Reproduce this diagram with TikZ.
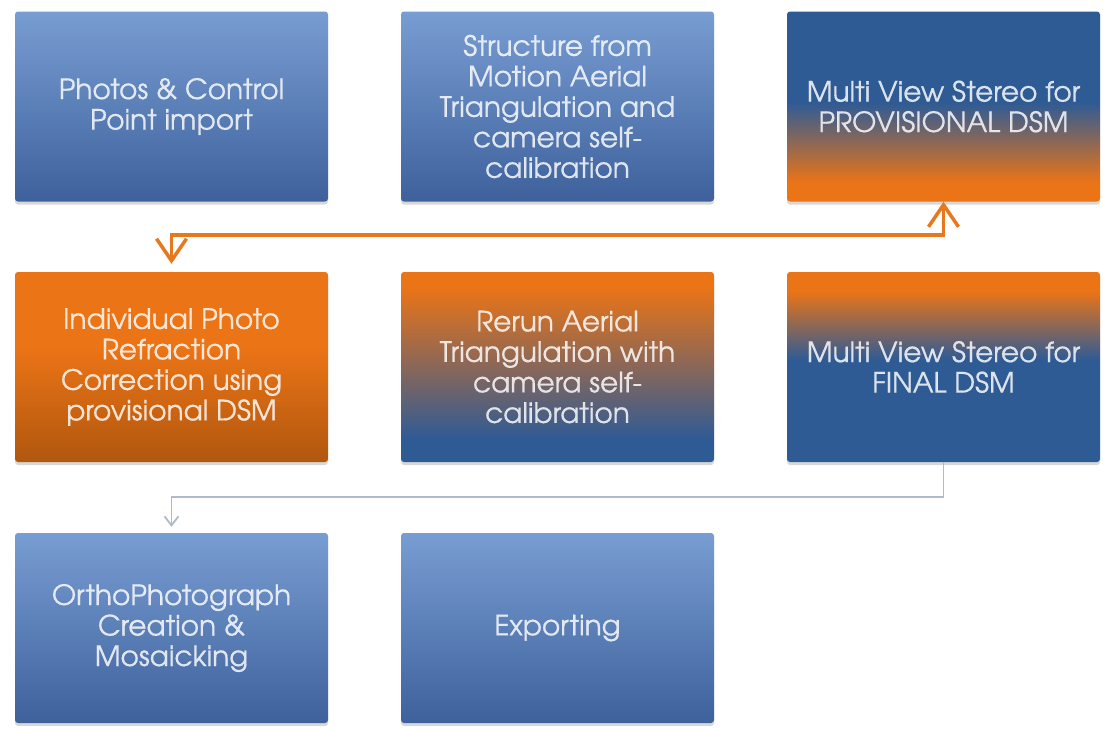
\documentclass[tikz,border=0pt]{standalone}
\usepackage{fontspec}
\setmainfont[FakeBold=0.5]{TeX Gyre Adventor}
\usetikzlibrary{arrows.meta,shadows}

% palette
\definecolor{bluetop}{HTML}{789DD2}
\definecolor{bluebot}{HTML}{3E619C}
\definecolor{deepblue}{HTML}{2F5B95}
\definecolor{orng}{HTML}{EB7416}
\definecolor{orngdark}{HTML}{B0570F}
\definecolor{linkorange}{HTML}{E8781E}
\definecolor{linkgray}{HTML}{AEBBCB}

% vertical shadings: 25bp = bottom edge of the box, 75bp = top edge
\pgfdeclareverticalshading{shblue}{100bp}{color(0bp)=(bluebot); color(25bp)=(bluebot); color(75bp)=(bluetop); color(100bp)=(bluetop)}
\pgfdeclareverticalshading{shblueorange}{100bp}{color(0bp)=(orng); color(30bp)=(orng); color(51bp)=(deepblue); color(100bp)=(deepblue)}
\pgfdeclareverticalshading{shorange}{100bp}{color(0bp)=(orngdark); color(25bp)=(orngdark); color(55bp)=(orng); color(100bp)=(orng)}
\pgfdeclareverticalshading{shorangeblue}{100bp}{color(0bp)=(deepblue); color(31bp)=(deepblue); color(71bp)=(orng); color(100bp)=(orng)}
\pgfdeclareverticalshading{shorangetop}{100bp}{color(0bp)=(deepblue); color(52bp)=(deepblue); color(70bp)=(orng); color(100bp)=(orng)}

\tikzset{
  stepbox/.style={rectangle, rounded corners=3pt, minimum width=313pt,
    minimum height=190pt, inner sep=0pt, align=center, text=white,
    text opacity=0.82, font=\fontsize{28}{30.5}\selectfont,
    drop shadow={shadow xshift=0pt, shadow yshift=-3pt, opacity=0.3}},
  orangelink/.style={draw=linkorange, line width=3.5pt,
    {Straight Barb[length=22pt,width=30pt]}-{Straight Barb[length=22pt,width=30pt]}},
  graylink/.style={draw=linkgray, line width=1.8pt,
    -{Straight Barb[length=9pt,width=14pt]}}
}

\begin{document}
\begin{tikzpicture}[x=1pt,y=-1pt]
  \fill[white] (0,0) rectangle (1103,729);
  \useasboundingbox (0,0) rectangle (1103,729);

  % first row
  \node[stepbox, shading=shblue] (import) at (171.5,106.5) {Photos \& Control\\Point import};
  \node[stepbox, shading=shblue] (sfm) at (557.5,106.5) {Structure from\\Motion Aerial\\Triangulation and\\camera self-\\calibration};
  \node[stepbox, shading=shblueorange] (prov) at (943.5,106.5) {Multi View Stereo for\\PROVISIONAL DSM};

  % second row
  \node[stepbox, shading=shorange] (refr) at (171.5,367) {Individual Photo\\Refraction\\Correction using\\provisional DSM};
  \node[stepbox, shading=shorangeblue] (rerun) at (557.5,367) {Rerun Aerial\\Triangulation with\\camera self-\\calibration};
  \node[stepbox, shading=shorangetop] (final) at (943.5,367) {Multi View Stereo for\\FINAL DSM};

  % third row
  \node[stepbox, shading=shblue] (ortho) at (171.5,628) {OrthoPhotograph\\Creation \&\\Mosaicking};
  \node[stepbox, shading=shblue] (export) at (557.5,628) {Exporting};

  % connectors
  \draw[orangelink, shorten <=8pt] (refr.north) -- ++(0,-37) -| (prov.south);
  \draw[graylink, shorten >=6pt] (final.south) -- ++(0,35) -| (ortho.north);
\end{tikzpicture}
\end{document}
